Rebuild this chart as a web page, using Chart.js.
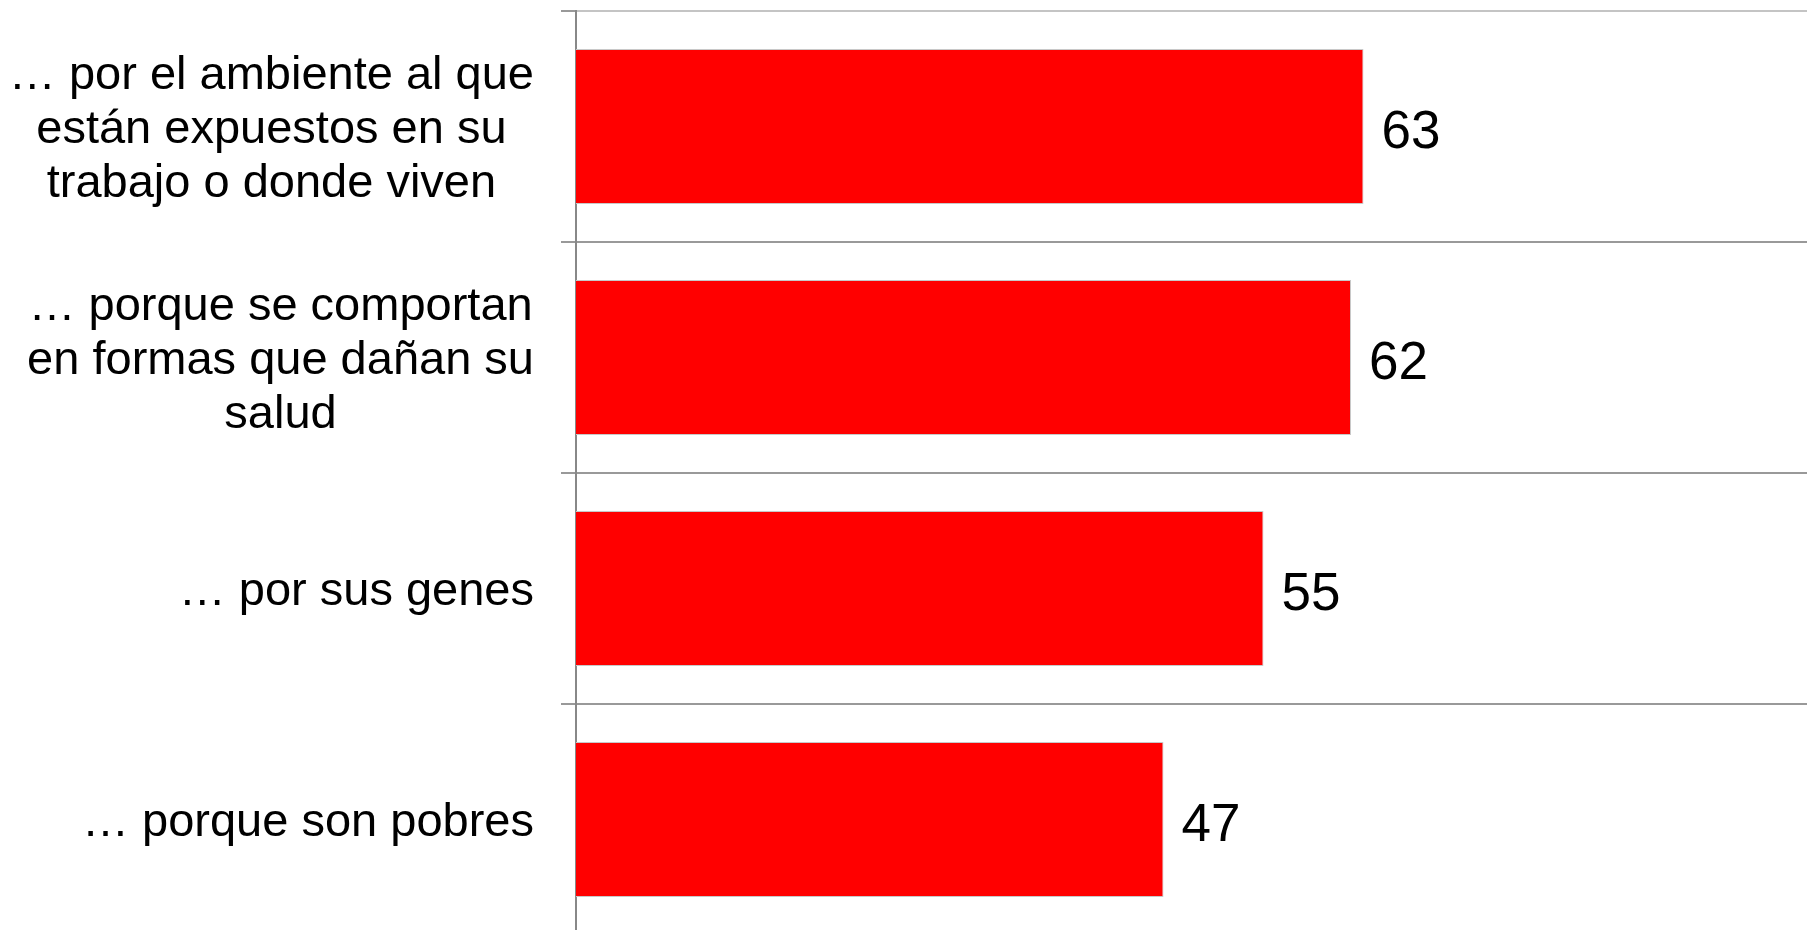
<!DOCTYPE html>
<html>
<head>
<meta charset="utf-8">
<script src="https://cdn.jsdelivr.net/npm/chart.js@4"></script>
<style>
  html, body { margin: 0; padding: 0; background: #fff; overflow: hidden; }
  #wrap { width: 1826px; height: 935px; }
</style>
</head>
<body>
<div id="wrap"><canvas id="chart"></canvas></div>
<script>
// Chart data
const categories = [
    ["… por el ambiente al que", "están expuestos en su", "trabajo o donde viven"],
    ["… porque se comportan", "en formas que dañan su", "salud"],
    ["… por sus genes"],
    ["… porque son pobres"]
];
const values = [63, 62, 55, 47];
const axisMin = 0;
const axisMax = 100;

const FONT = "'Liberation Sans', Arial, sans-serif";

// Category labels: block right-aligned, lines centered inside the block
const categoryLabels = {
    id: "categoryLabels",
    afterDraw(chart) {
        const ctx = chart.ctx;
        const yScale = chart.scales.y;
        const right = 534;
        const lineHeight = 54;
        ctx.save();
        ctx.font = "47px " + FONT;
        ctx.fillStyle = "#000";
        ctx.textAlign = "center";
        ctx.textBaseline = "middle";
        categories.forEach((lines, i) => {
            const cy = yScale.getPixelForTick(i) + 4;
            const widest = Math.max(...lines.map(l => ctx.measureText(l).width));
            const cx = right - widest / 2;
            const top = cy - (lines.length - 1) * lineHeight / 2;
            lines.forEach((line, j) => ctx.fillText(line, cx, top + j * lineHeight));
        });
        ctx.restore();
    }
};

// Value labels to the right of each bar
const valueLabels = {
    id: "valueLabels",
    afterDatasetsDraw(chart) {
        const ctx = chart.ctx;
        const meta = chart.getDatasetMeta(0);
        ctx.save();
        ctx.font = "53px " + FONT;
        ctx.fillStyle = "#000";
        ctx.textAlign = "left";
        ctx.textBaseline = "middle";
        meta.data.forEach((bar, i) => {
            ctx.fillText(String(values[i]), bar.x + 18, bar.y + 7);
        });
        ctx.restore();
    }
};

new Chart(document.getElementById("chart"), {
    type: "bar",
    data: {
        labels: categories,
        datasets: [{
            data: values,
            backgroundColor: "#ff0000",
            borderColor: "#c8c8c8",
            borderWidth: 1,
            categoryPercentage: 1,
            barPercentage: 0.67
        }]
    },
    options: {
        indexAxis: "y",
        responsive: true,
        maintainAspectRatio: false,
        animation: false,
        layout: { padding: { top: 11, left: 0, right: 0, bottom: 0 } },
        plugins: {
            legend: { display: false },
            tooltip: { enabled: false }
        },
        scales: {
            x: {
                display: false,
                min: axisMin,
                max: axisMax
            },
            y: {
                afterFit(scale) { scale.width = 576; },
                ticks: { display: false },
                grid: {
                    offset: true,
                    lineWidth: 2,
                    color: c => c.index === 0 ? "#c4c4c4" : "#999999",
                    tickColor: "#999999",
                    tickLength: 15,
                    drawTicks: true
                },
                border: { display: true, color: "#888888", width: 2 }
            }
        }
    },
    plugins: [categoryLabels, valueLabels]
});
</script>
</body>
</html>
